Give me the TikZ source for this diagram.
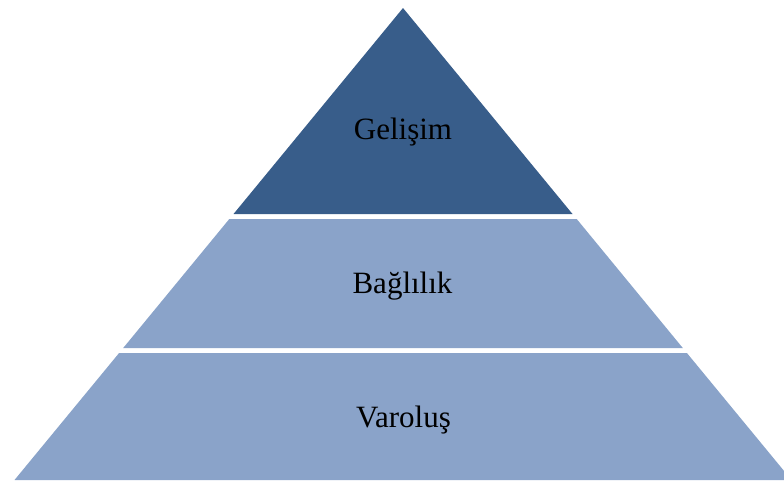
\documentclass[tikz,border=0pt]{standalone}
\usepackage{fontspec}
\setmainfont{Liberation Serif}
\definecolor{darkblue}{RGB}{56,93,138}
\definecolor{lightblue}{RGB}{138,163,201}
\tikzset{
  layerlabel/.style={anchor=base,inner sep=0pt,font=\fontsize{31}{36}\selectfont,text=black}
}
\begin{document}
\begin{tikzpicture}[x=1pt,y=-1pt]
\useasboundingbox (0,0) rectangle (784,482);
\clip (0,0) rectangle (784,482);
% top layer
\fill[darkblue] (403,8) -- (572.5,214) -- (233.5,214) -- cycle;
% middle layer
\fill[lightblue] (229.3,219) -- (576.7,219) -- (682.8,348) -- (123.2,348) -- cycle;
% bottom layer
\fill[lightblue] (119.1,353) -- (686.9,353) -- (791.5,480) -- (14.5,480) -- cycle;
\node[layerlabel] (top) at (403,139) {Gelişim};
\node[layerlabel] (mid) at (402.5,293) {Bağlılık};
\node[layerlabel] (bot) at (403.5,427) {Varoluş};
\end{tikzpicture}
\end{document}
